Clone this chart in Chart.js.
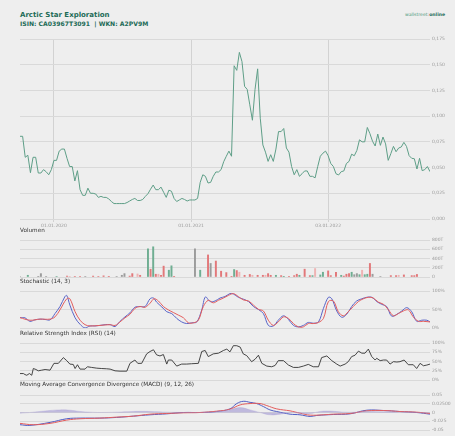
<!DOCTYPE html>
<html><head><meta charset="utf-8">
<script src="https://cdn.jsdelivr.net/npm/chart.js@4"></script>
<style>
html,body{margin:0;padding:0;background:#eeeeee;}
body{width:455px;height:436px;position:relative;overflow:hidden;font-family:'DejaVu Sans',sans-serif;}
.t{position:absolute;white-space:nowrap;z-index:5;line-height:1;}
canvas{position:absolute;left:0;}
</style></head><body>
<div class="t" style="left:20px;top:12px;font-size:7px;font-weight:bold;color:#1d6b57">Arctic Star Exploration</div>
<div class="t" style="left:20px;top:20.5px;font-size:6.1px;font-weight:bold;color:#1d6b57">ISIN: CA03967T3091&nbsp; | WKN: A2PV9M</div>
<div class="t" style="left:405px;top:12.5px;font-size:4.6px;"><span style="color:#4f9a80">wallstreet</span><span style="color:#d33">:</span><b style="color:#1d6b57">online</b></div>
<div class="t" style="left:20px;top:227.5px;font-size:5.7px;color:#333">Volumen</div>
<div class="t" style="left:20px;top:278.5px;font-size:5.7px;color:#333">Stochastic (14, 3)</div>
<div class="t" style="left:20px;top:331px;font-size:5.7px;color:#333">Relative Strength Index (RSI) (14)</div>
<div class="t" style="left:20px;top:382px;font-size:5.7px;color:#333">Moving Average Convergence Divergence (MACD) (9, 12, 26)</div>
<script>
// ---------- DATA ----------
const price = [0.0804,0.0804,0.060,0.062,0.045,0.060,0.060,0.0447,0.0447,0.048,
0.046,0.043,0.048,0.057,0.057,0.066,0.068,0.068,0.059,0.051,
0.051,0.037,0.047,0.0285,0.023,0.023,0.030,0.025,0.025,0.0243,
0.021,0.022,0.021,0.021,0.0195,0.017,0.015,0.015,0.015,0.015,
0.015,0.016,0.0175,0.019,0.020,0.018,0.018,0.019,0.022,0.0246,
0.029,0.033,0.0285,0.0285,0.031,0.026,0.021,0.028,0.027,0.020,
0.017,0.0185,0.020,0.019,0.0175,0.0185,0.0185,0.0185,0.020,0.0356,
0.043,0.0415,0.035,0.0356,0.0415,0.0457,0.0457,0.048,0.0557,0.061,
0.066,0.061,0.149,0.1445,0.162,0.153,0.129,0.126,0.111,0.096,
0.126,0.146,0.098,0.072,0.065,0.056,0.0625,0.056,0.068,0.085,
0.085,0.088,0.069,0.065,0.051,0.043,0.048,0.0415,0.044,0.0467,
0.0467,0.0415,0.0415,0.040,0.051,0.061,0.064,0.066,0.0615,0.054,
0.051,0.044,0.0428,0.046,0.0467,0.054,0.056,0.063,0.0615,0.0667,
0.077,0.075,0.075,0.089,0.083,0.0755,0.071,0.0826,0.0716,0.0797,
0.073,0.057,0.0635,0.0706,0.0654,0.069,0.070,0.0745,0.0706,0.0616,
0.059,0.0586,0.0486,0.059,0.047,0.048,0.051,0.046];
const lastWeek = 157;
const dateTickWeeks = [13, 65.5, 118];
const dateTickLabels = ['01.01.2020','01.01.2021','03.01.2022'];
const priceTicks = [0,0.025,0.05,0.075,0.1,0.125,0.15,0.175];
const priceTickLabels = ['0,000','0,025','0,050','0,075','0,100','0,125','0,150','0,175'];

const volWeek = [0,3,7,8,10,14,18,19,21,23,25,28,30,32,34,37,39,40,42,43,45,46,49,50,51,52,53,54,55,57,58,59,67,69,72,73,75,77,79,81,82,83,84,86,88,89,91,93,94,95,96,98,100,101,103,105,106,107,109,111,112,113,115,116,118,119,121,123,124,125,126,127,128,129,130,131,132,133,134,135,138,142,144,145,147,150,151,152];
const volValue = [10,37,15,73,10,10,20,12,12,10,10,20,12,25,15,10,37,73,20,73,66,37,609,169,653,60,60,37,235,147,242,15,609,147,477,293,345,125,95,15,161,139,103,37,55,37,37,37,37,73,37,37,30,15,15,30,60,37,169,30,30,183,45,103,132,30,103,37,20,60,73,103,50,73,50,147,50,60,293,60,10,30,30,37,45,30,30,55];
const volDir = ['n','u','n','n','n','u','d','l','d','d','n','d','d','d','d','n','n','n','d','d','l','d','u','d','u','d','l','d','d','u','u','d','n','u','d','n','d','d','d','d','u','d','l','d','d','l','d','d','l','d','d','u','d','u','d','d','d','u','d','d','u','l','u','u','d','d','d','u','d','d','d','u','n','n','u','l','u','u','d','n','n','d','d','l','d','d','d','d'];
const volTicks = [0,200,400,600,800];
const volTickLabels = ['0','200T','400T','600T','800T'];

const stochKWeek = [0,1.9,3.8,5.7,7.7,9.6,11.5,13.4,15.3,17.2,17.9,19.1,21.1,23,24.9,26.8,28.7,30.6,32.6,34.5,36.4,38.3,40.2,42.1,44,46,47.9,49.8,51.1,52.3,54.3,56.2,58.1,60,61.9,63.8,65.7,67.7,69.6,71,72.8,74.7,76.6,78.5,80.4,81.7,83.6,85.5,87.5,89.4,91.3,93.2,95.1,97,98.9,100.9,102.8,104.7,106.6,108.5,110.4,112.3,114.3,116.2,118.1,119.4,121.3,123.2,125.1,127,128.9,130.9,132.8,134.7,136.6,138.5,140.4,142.3,144.3,146.2,148.1,150,151.9,153.8,155.8,157];
const stochK = [28,27.5,18,22,24,23,22,39,58,85,88,62,27.5,10,0,5.5,5.5,7,9,9,4,18,30,41,56,58,58,79,81,70,57,44,39,26,16.5,12,14,16.5,49,84,71.5,73,81,85,93,92,83,78,71.5,58,50,39,7,5.5,21,33,23,7,3,7,15,13,16.5,53,83,79,46,29,37,58,73,79,83,83,71.5,64,58,32,37,46,55,44,18,21,21,16.5];
const stochDWeek = [0,3.8,7.7,11.5,13.4,15.3,17.9,19.1,21.1,23,24.9,26.8,30.6,34.5,36.4,38.3,40.2,42.1,44,46,47.9,49.8,51.3,53,54.9,56.8,58.7,60.6,62.6,64.5,66.4,68.3,70.2,72.1,74,76,77.9,79.8,81.7,83.6,85.5,87.5,89.4,91.3,93.2,95.1,97,98.9,100.9,102.8,104.7,106.6,108.5,110.4,112.3,114.3,116.2,118.1,120,121.9,123.8,125.7,127.6,129.6,131.5,133.4,135.3,137.2,139.2,141.1,143,144.9,146.8,148.7,150.6,152.6,154.5,157];
const stochD = [28,21,24,24,30,49,79,79,44,21,9,5.5,7,9,7,16.5,27.5,37,53,58,56,67,79,73,58,49,42,35,27.5,14,14,21,58,75,68,75,81,88,93,85,76,73,62,50.5,46,21,7,16.5,30,26,12,3,3,12,12,15,26,71.5,73,44,33,44,58,71.5,79,83,81,70,64,49,33,39,46,49,30,18,18,16.5];
const stochTicks = [0,50,100];
const stochTickLabels = ['0%','50%','100%'];

const rsiWeek = [0,1.3,1.9,2.6,3.6,4.5,5.1,6.1,7,8.3,9.6,11.5,13,14.7,16.6,17.9,19.1,20.4,21.1,22,23,24.9,25.8,27.4,29.4,31.3,33.2,34.5,36.4,38.3,40.9,42.1,44,45.1,46.6,48.5,49.8,51.1,52.3,53.6,54.9,56.2,56.8,58.1,60,61.9,63.8,65.7,68.3,69.6,70.9,72.1,74,76,77.9,79.2,80.4,81.7,83,84.3,85.5,86.8,88.7,90,91.3,92.6,94.5,96.4,97.7,98.9,100.9,102.8,104.7,106.6,108.5,110.4,112.3,114.3,115.5,117.5,119.4,121.3,122.6,124.5,125.7,127,128.3,129.6,130.9,132.1,133.4,134.7,136,136.6,137.9,139.2,140.4,141.7,143,144.3,145.5,147.1,148.7,150.6,151.9,153.2,154.5,155.8,157];
const rsi = [17.4,17.4,14.7,12.8,17.4,12.8,31,28.4,24.8,26.6,28.4,26.6,45,45,60.5,52.3,43,42,31,41.3,29.4,29.4,35.8,34,32,31,30.3,29.4,24.8,23.9,23.9,45,54,45,45,70.6,77,81.7,68,65,68.8,43,54,54,37.6,43,43,44,45,77,79.8,63.3,70.6,72.5,79.8,83.5,76,92.7,92.7,89,70.6,66,49.5,56,67,45,37.6,35.8,39.4,52.3,52.3,40.4,34,34,37.6,42.2,35.8,35.8,60.5,65,52.3,43,37.6,43,49.5,63.3,67,78,72.5,72.5,83.5,63.3,54,58.7,52.3,54,54,43,49.5,48.6,49.5,54,41.3,41.3,31,45,38.5,40.4,43];
const rsiTicks = [0,25,50,75,100];
const rsiTickLabels = ['0%','25%','50%','75%','100%'];

const macdWeek = [0,3.8,11.5,17.9,23,30.6,37,43.4,49.8,56.2,62.6,68.9,75.3,80.4,83,85.5,88.1,90.6,93.2,95.7,98.3,103.4,107.2,111.1,113.6,120,126.4,132.8,139.2,145.5,151.9,157];
const macd = [-0.0349,-0.0368,-0.0283,-0.0179,-0.016,-0.016,-0.0141,-0.0104,-0.0066,-0.0038,0,0,0.0028,0.0104,0.0255,0.032,0.029,0.0255,0.017,0.0075,0.0028,-0.0047,-0.0066,-0.0113,-0.0085,-0.0057,-0.0038,0.0066,0.0057,0.0028,0,-0.0047];
const signalWeek = [0,5.1,11.5,17.9,23,30.6,37,43.4,49.8,56.2,62.6,68.9,75.3,80.4,84.3,88.1,91.9,94.5,98.3,103.4,107.2,111.1,116.2,120,126.4,132.8,139.2,145.5,151.9,157];
const signal = [-0.0311,-0.0349,-0.0311,-0.0217,-0.0179,-0.016,-0.0132,-0.0104,-0.0047,-0.0028,-0.0009,0,0.0038,0.0094,0.0217,0.0255,0.0255,0.0198,0.0104,0.0047,-0.0019,-0.0075,-0.0066,-0.0047,-0.0028,0.0047,0.0057,0.0028,0.0009,-0.0028];
const histWeek = [0,3.8,7.7,11.5,15.3,19.1,23,26.8,30.6,37,43.4,49.8,56.2,62.6,68.9,75.3,80.4,84.3,88.1,91.9,95.7,99.6,103.4,107.2,111.1,114.9,118.7,123.8,128.9,132.8,139.2,145.5,151.9,157];
const hist = [-0.002,0,0.003,0.0057,0.0075,0.0066,0.003,0.001,0,0.001,0.003,0.003,0.001,0,0,0.002,0.0075,0.014,0.0075,0,-0.0066,-0.0047,0,-0.002,-0.003,0.003,0.004,0.001,0.001,0.003,0.002,0.001,0,-0.001];
const macdTicks = [-0.05,-0.025,0,0.025,0.05];
const macdTickLabels = ['-0.05','-0.025','0','0.02500','0.05'];

// ---------- HELPERS ----------
const W = 455;
const tickFont = {family:'DejaVu Sans', size:4.5};
function zip(xs, ys){ const n=Math.min(xs.length, ys.length); const o=[]; for(let i=0;i<n;i++) o.push({x:xs[i], y:ys[i]}); return o; }
function mk(top, height, cfg){
  const c = document.createElement('canvas');
  c.width = W; c.height = height; c.style.top = top+'px';
  document.body.appendChild(c);
  cfg.options = Object.assign({
    responsive:false, animation:false, devicePixelRatio:1,
    plugins:{legend:{display:false}, tooltip:{enabled:false}}
  }, cfg.options);
  return new Chart(c.getContext('2d'), cfg);
}
function yAxis(min, max, vals, labels){
  return {
    position:'right', min, max,
    afterBuildTicks: s => { s.ticks = vals.map(v => ({value:v})); },
    afterFit: s => { s.width = 25; },
    ticks:{font:tickFont, color:'#9a9a9a', padding:2, callback:(v,i)=>labels[i]},
    grid:{color:'#d9d9d9', lineWidth:1, drawTicks:false},
    border:{display:false}
  };
}
function xHidden(){ return {type:'linear', min:0, max:lastWeek, display:false, offset:false}; }
const pad = {left:20, right:0, top:6, bottom:6};

// ---------- MAIN PRICE ----------
mk(30, 202, {
  type:'line',
  data:{datasets:[{data:price.map((v,i)=>({x:i,y:v})), borderColor:'#5e9e87', borderWidth:1, pointRadius:0, tension:0}]},
  options:{
    layout:{padding:{left:20,right:0,top:9,bottom:0}},
    scales:{
      x:{type:'linear', min:0, max:lastWeek, offset:false,
        afterBuildTicks: s => { s.ticks = dateTickWeeks.map(v=>({value:v})); },
        afterFit: s => { s.height = 13; },
        ticks:{font:tickFont, color:'#9a9a9a', padding:1, maxRotation:0, autoSkip:false, callback:(v,i)=>dateTickLabels[i]},
        grid:{color:'#d2d2d2', lineWidth:1, drawTicks:true, tickLength:3},
        border:{display:false}},
      y: yAxis(0, 0.175, priceTicks, priceTickLabels)
    }
  }
});

// ---------- VOLUME ----------
const volColors = {u:'#6fae92', d:'#e2787a', n:'#9c9c9c', l:'#efb3b3'};
mk(234, 49, {
  type:'bar',
  data:{datasets:[{data:zip(volWeek, volValue), backgroundColor: ctx => volColors[volDir[ctx.dataIndex]] || '#999', barThickness:1.3, borderWidth:0}]},
  options:{layout:{padding:pad}, scales:{x:xHidden(), y:yAxis(0, 800, volTicks, volTickLabels)}}
});

// ---------- STOCHASTIC ----------
mk(285, 49, {
  type:'line',
  data:{datasets:[
    {data:zip(stochDWeek, stochD), borderColor:'#e35d5d', borderWidth:1, pointRadius:0, tension:0.35},
    {data:zip(stochKWeek, stochK), borderColor:'#5864c8', borderWidth:1, pointRadius:0, tension:0.35}
  ]},
  options:{layout:{padding:pad}, scales:{x:xHidden(), y:yAxis(0, 100, stochTicks, stochTickLabels)}}
});

// ---------- RSI ----------
mk(337, 49, {
  type:'line',
  data:{datasets:[{data:zip(rsiWeek, rsi), borderColor:'#333333', borderWidth:0.9, pointRadius:0, tension:0}]},
  options:{layout:{padding:pad}, scales:{x:xHidden(), y:yAxis(0, 100, rsiTicks, rsiTickLabels)}}
});

// ---------- MACD ----------
mk(389, 47, {
  type:'line',
  data:{datasets:[
    {data:zip(histWeek, hist), borderColor:'rgba(160,150,210,0.6)', backgroundColor:'rgba(160,150,210,0.6)', borderWidth:0.5, pointRadius:0, tension:0.4, fill:'origin'},
    {data:zip(signalWeek, signal), borderColor:'#e35d5d', borderWidth:1, pointRadius:0, tension:0.4},
    {data:zip(macdWeek, macd), borderColor:'#4e5cc4', borderWidth:1, pointRadius:0, tension:0.4}
  ]},
  options:{layout:{padding:pad}, scales:{x:xHidden(), y:yAxis(-0.05, 0.05, macdTicks, macdTickLabels)}}
});
</script>
</body></html>
